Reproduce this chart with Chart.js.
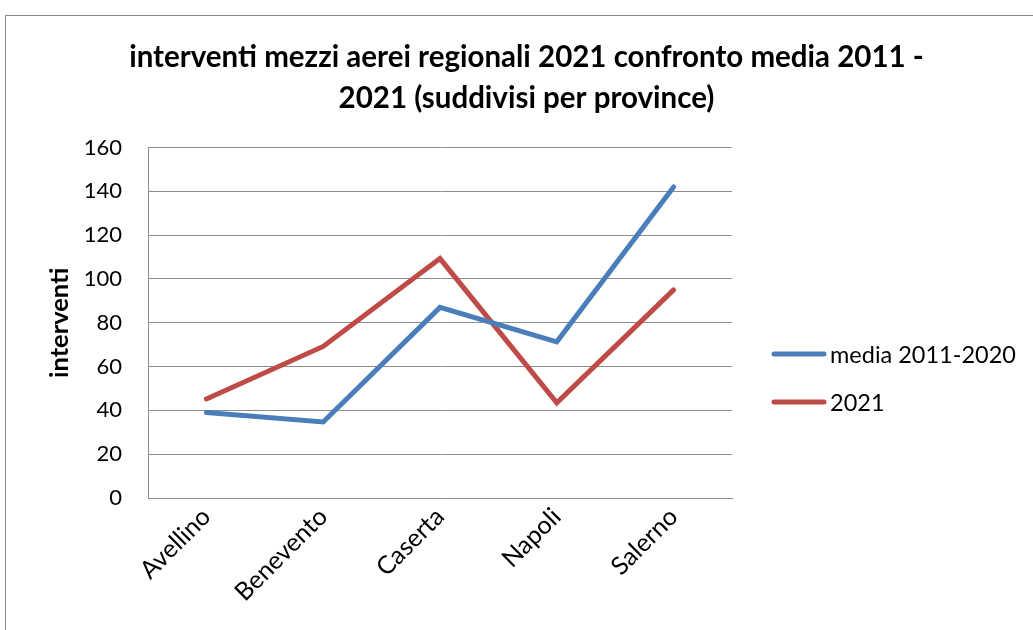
<!DOCTYPE html>
<html>
<head>
<meta charset="utf-8">
<title>interventi mezzi aerei regionali</title>
<script src="https://cdn.jsdelivr.net/npm/chart.js@4.4.0/dist/chart.umd.min.js"></script>
<style>
    html, body { margin: 0; padding: 0; background: #fff; overflow: hidden; }
    #wrap { position: relative; width: 1033px; height: 630px; }
    /* chart frame, only top and left edges fall inside the window */
    #frame { position: absolute; left: 5px; top: 15px; width: 1100px; height: 700px; border: 1px solid #8a8a8a; }
    #chart { position: absolute; left: 0; top: 0; }
</style>
</head>
<body>
<div id="wrap">
    <div id="frame"></div>
    <canvas id="chart" width="1033" height="630"></canvas>
</div>
<script>
// === data ===
const province = ["Avellino", "Benevento", "Caserta", "Napoli", "Salerno"];
const media20112020 = [39, 34.7, 87, 71.3, 142];
const anno2021 = [45.2, 69.2, 109.3, 43.5, 95];
const seriesLabels = ["media 2011-2020", "2021"];
const seriesColors = ["#4a7ebb", "#be4b48"];
const yTickMin = 0;
const yTickMax = 160;
const yTickStep = 20;

const FONT = "Lato, 'Open Sans', sans-serif";
const GRID_GREY = "#8c8c8c";

// legend sits to the right of the plot, drawn by hand
const sideLegend = {
    id: "sideLegend",
    afterDraw(chart) {
        const c = chart.ctx;
        chart.data.datasets.forEach((ds, i) => {
            const y = 354 + i * 48;
            c.save();
            c.strokeStyle = ds.borderColor;
            c.lineWidth = 5;
            c.lineCap = "round";
            c.beginPath();
            c.moveTo(774, y);
            c.lineTo(824, y);
            c.stroke();
            c.fillStyle = "#000";
            c.font = "23.5px " + FONT;
            c.textBaseline = "middle";
            c.fillText(ds.label, 830, y + 1);
            c.restore();
        });
    }
};

function drawChart() {
    const ctx = document.getElementById("chart").getContext("2d");
    new Chart(ctx, {
        type: "line",
        data: {
            labels: province,
            datasets: [media20112020, anno2021].map((vals, i) => ({
                label: seriesLabels[i],
                data: vals,
                borderColor: seriesColors[i],
                backgroundColor: seriesColors[i],
                borderWidth: 5,
                borderCapStyle: "round",
                borderJoinStyle: "miter",
                pointRadius: 0,
                tension: 0,
                yAxisID: "y"
            }))
        },
        options: {
            responsive: false,
            animation: false,
            devicePixelRatio: 1,
            layout: { padding: { left: 20, right: 0, top: 20, bottom: 0 } },
            plugins: {
                legend: { display: false },
                tooltip: { enabled: false },
                title: {
                    display: true,
                    text: ["interventi mezzi aerei regionali 2021 confronto media 2011 -",
                           "2021 (suddivisi per province)"],
                    color: "#000",
                    font: { family: FONT, size: 29.5, weight: "bold", lineHeight: 1.39 },
                    padding: { top: 16.5, bottom: 29 }
                }
            },
            scales: {
                x: {
                    offset: true,
                    grid: { display: false, drawTicks: false },
                    border: { display: true, color: GRID_GREY, width: 1 },
                    ticks: {
                        color: "#000",
                        font: { family: FONT, size: 25 },
                        maxRotation: 45,
                        minRotation: 45,
                        padding: 4
                    },
                    afterFit: scale => { scale.height = 132; }
                },
                y: {
                    min: yTickMin,
                    max: yTickMax,
                    grid: { color: GRID_GREY, lineWidth: 1, drawTicks: false },
                    border: { display: true, color: GRID_GREY, width: 1 },
                    ticks: {
                        stepSize: yTickStep,
                        color: "#000",
                        font: { family: FONT, size: 22 },
                        padding: 26
                    },
                    title: {
                        display: true,
                        text: "interventi",
                        color: "#000",
                        font: { family: FONT, size: 25.5, weight: "bold", lineHeight: 1.2 },
                        padding: { top: 24.7, bottom: 0 }
                    },
                    afterFit: scale => { scale.width = 128; }
                },
                // empty right-hand box that leaves room for the legend
                side: {
                    position: "right",
                    display: true,
                    grid: { display: false, drawTicks: false },
                    border: { display: false },
                    ticks: { display: false },
                    afterFit: scale => { scale.width = 301; }
                }
            }
        },
        plugins: [sideLegend]
    });
}

document.fonts.load("22px Lato").then(drawChart, drawChart);
</script>
</body>
</html>
